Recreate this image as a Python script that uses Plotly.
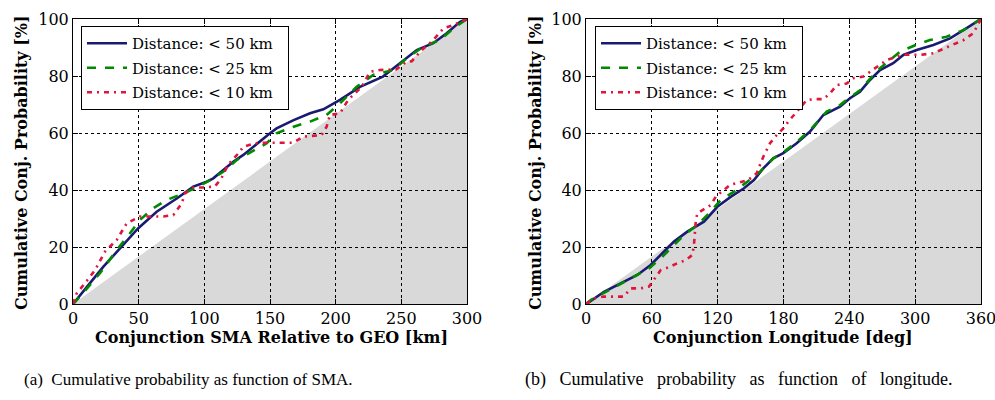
import plotly.graph_objects as go

# ---------------- data ----------------
# (a) SMA relative to GEO [km]
sma_50_x = [0, 1.5, 12, 23, 35.8, 49.7, 63.7, 79, 91.6, 101.8, 106.8, 114.4, 122, 129.7, 137.3, 150,
            155, 168, 180.5, 190.6, 203.3, 218.5, 236, 249, 261.7, 274.3, 284.5, 294.7, 300]
sma_50_y = [0, 0.8, 6.8, 13, 19.5, 26.6, 32.4, 37, 41.2, 42.9, 44.1, 47, 49.9, 52.3, 55.2, 59.9,
            61.6, 64.5, 66.9, 68.3, 71.6, 76.2, 79.8, 84.5, 89.1, 91.5, 95, 99, 100]

sma_25_x = [0, 5.3, 20.5, 33.3, 43.4, 51, 61, 71.3, 84, 94.2, 104.3, 114.4, 124.6, 136, 147.5,
            155, 168, 180.5, 193, 203.3, 216, 228.6, 243.9, 254, 266.7, 279.4, 289.6, 300]
sma_25_y = [0, 2.6, 10.8, 18.9, 24.8, 29.5, 33.6, 36.5, 38.8, 40.9, 43.5, 46.4, 50.5, 53.4, 56.4,
            59.9, 62.2, 64, 66.3, 70.4, 76.2, 80.4, 82.1, 86.2, 90.3, 92.6, 96.7, 100]

sma_10_x = [0, 2.8, 9.1, 16.8, 24.4, 33.3, 40.9, 51, 68.8, 76.4, 82.8, 85.3, 91.6, 99.2, 108, 113,
            118, 126, 129.7, 138.6, 147.5, 167.7, 175.4, 183, 189.3, 193.1, 195.6, 203.3, 209.5,
            219.8, 226.2, 233.8, 241.5, 246, 254, 258, 264.2, 274.3, 282, 289.6, 300]
sma_10_y = [0, 3.7, 7.3, 11.9, 18.4, 22.5, 28.3, 30.7, 30.7, 31.2, 35.3, 38.8, 40.9, 40.9, 41.2, 44.1,
            48.8, 52.9, 55.2, 56.4, 56.6, 56.6, 58.7, 59.1, 59.3, 62.2, 66.3, 66.9, 71.6,
            76.2, 81.5, 82.1, 82.1, 82.3, 85, 85.2, 88.5, 92.6, 96.7, 97.9, 100]

# (b) longitude [deg]
lon_50_x = [0, 1.2, 16.4, 31.6, 46.8, 58.9, 69.5, 80.2, 92.3, 107.5, 119.7, 131.9, 144, 153.1,
            161.6, 170.7, 179.8, 192, 204.2, 216.3, 231.5, 240.6, 249.7, 258.8, 268, 280, 289.2,
            301.4, 316.6, 331.8, 344, 356, 360]
lon_50_y = [0, 0.2, 4.3, 7.3, 10.2, 13.7, 17.8, 21.9, 25.4, 28.9, 34.1, 37.6, 40.6, 43.5,
            47.6, 51.1, 52.9, 56.4, 60.5, 66.3, 69.2, 72.2, 74.5, 78.6, 82.1, 84.5, 87.4,
            89.1, 90.9, 93.2, 96.1, 99, 100]

lon_25_x = [0, 4.3, 21.3, 34.6, 46.8, 57.4, 68.1, 78.7, 89.3, 101.5, 112.1, 122.8, 134.9, 147,
            158.6, 170.7, 179.8, 192, 204.2, 219.4, 231.5, 240.6, 249.7, 258.8, 268, 286.2,
            300, 313.5, 328.7, 344, 356, 360]
lon_25_y = [0, 1.4, 4.9, 7.8, 10.2, 12.5, 16, 20.1, 24.2, 27.7, 31.8, 36.5, 39.4, 42.9,
            46.4, 51.1, 53.2, 56.8, 61, 67.5, 69.8, 72.5, 75, 79, 82.7, 88.5,
            90.8, 92.6, 93.8, 96.1, 99, 100]

lon_10_x = [0, 7.3, 16.4, 27.1, 34.6, 40.7, 49.9, 57.4, 63.5, 68.1, 75.6, 83.2, 90.9, 96.9, 98.4,
            99.9, 101.4, 113.6, 118.2, 131.2, 147.9, 155.6, 161.6, 167.7, 173.8, 179.8, 184.4,
            195, 201.2, 208.7, 216.3, 222.4, 228.5, 237.6, 243.6, 252.7, 258.8, 266.4, 274,
            289, 304.4, 316.6, 334.8, 344, 353, 360]
lon_10_y = [0, 2, 2.6, 2.6, 2.6, 5.5, 5.5, 6.1, 9.6, 11.9, 12.9, 14.3, 15.4, 17.2, 20.7,
            28.3, 31.8, 34.7, 37.6, 41.8, 43.5, 45.9, 51.7, 56.4, 59.3, 61.6, 64,
            68.7, 71.6, 71.9, 71.9, 73.9, 76.8, 77.4, 79.2, 79.8, 81.5, 83.3, 85.6,
            87.5, 87.4, 88, 90.9, 92.6, 95, 100]

# uniform reference distributions (shaded)
ref_sma_x = [0, 300]
ref_lon_x = [0, 360]
ref_y = [0, 100]

sma_ticks = [0, 50, 100, 150, 200, 250, 300]
lon_ticks = [0, 60, 120, 180, 240, 300, 360]
y_ticks = [0, 20, 40, 60, 80, 100]

names = ["Distance: &lt; 50 km", "Distance: &lt; 25 km", "Distance: &lt; 10 km"]
colors = ["#1a1a72", "#008a00", "#e0143c"]
dashes = ["solid", "dash", "5px,5px,2px,5px"]

W, H = 995, 400
L1, R1 = 73, 467
L2, R2 = 586, 981
TOP, BOT = 19, 304


def px(v):
    return v / W


def py(v):
    return 1 - v / H


fig = go.Figure()

series = [
    (sma_50_x, sma_50_y, sma_25_x, sma_25_y, sma_10_x, sma_10_y, "x", "y", "legend"),
    (lon_50_x, lon_50_y, lon_25_x, lon_25_y, lon_10_x, lon_10_y, "x2", "y2", "legend2"),
]
for s in series:
    xs = [s[0], s[2], s[4]]
    ys = [s[1], s[3], s[5]]
    for i in range(3):
        fig.add_trace(go.Scatter(
            x=xs[i], y=ys[i], mode="lines", name=names[i] + "&nbsp;&nbsp;",
            line=dict(color=colors[i], width=2.6, dash=dashes[i]),
            xaxis=s[6], yaxis=s[7], legend=s[8], legendgroup=s[8] + str(i),
        ))

font = "DejaVu Serif"
axis_common = dict(
    showline=True, linecolor="black", linewidth=1, mirror="allticks",
    ticks="inside", ticklen=5, tickcolor="black", tickwidth=1,
    showgrid=True, gridcolor="black", gridwidth=1, griddash="dot",
    zeroline=False, automargin=False, ticklabeloverflow="allow",
    tickfont=dict(family=font, size=16, color="black"),
)

leg_common = dict(xanchor="left", yanchor="top", bgcolor="white",
                  bordercolor="black", borderwidth=1, tracegroupgap=2, itemwidth=40,
                  font=dict(family=font, size=15, color="black"))

fig.update_layout(
    width=W, height=H, margin=dict(l=0, r=0, t=0, b=0, pad=0), autosize=False,
    paper_bgcolor="white", plot_bgcolor="white", showlegend=True,
    xaxis=dict(domain=[px(L1), px(R1)], range=[0, 300], tickvals=sma_ticks, anchor="y", **axis_common),
    yaxis=dict(domain=[py(BOT), py(TOP)], range=[0, 100], tickvals=y_ticks, anchor="x", **axis_common),
    xaxis2=dict(domain=[px(L2), px(R2)], range=[0, 360], tickvals=lon_ticks, anchor="y2", **axis_common),
    yaxis2=dict(domain=[py(BOT), py(TOP)], range=[0, 100], tickvals=y_ticks, anchor="x2", **axis_common),
    legend=dict(x=px(81), y=py(26), **leg_common),
    legend2=dict(x=px(595), y=py(26), **leg_common),
)

# shaded uniform reference area, below grid
for rx, xr, yr in [(ref_sma_x, "x", "y"), (ref_lon_x, "x2", "y2")]:
    path = f"M {rx[0]},{ref_y[0]} L {rx[1]},{ref_y[1]} L {rx[1]},{ref_y[0]} Z"
    fig.add_shape(type="path", path=path, xref=xr, yref=yr, fillcolor="#d9d9d9",
                  line=dict(width=0), layer="below")

# legend shadows
for lx0, lx1 in [(84, 289), (598, 802)]:
    fig.add_shape(type="rect", xref="paper", yref="paper", x0=px(lx0), x1=px(lx1),
                  y0=py(106), y1=py(30), fillcolor="#a8a8a8", line=dict(width=0), layer="above")

# axis titles
tfont = dict(family=font, size=16, color="black")
ann = dict(xref="paper", yref="paper", showarrow=False, xanchor="center", yanchor="middle")
fig.add_annotation(text="<b>Conjunction SMA Relative to GEO [km]</b>", x=px(271), y=py(337),
                   font=tfont, **ann)
fig.add_annotation(text="<b>Conjunction Longitude [deg]</b>", x=px(783), y=py(337),
                   font=tfont, **ann)
fig.add_annotation(text="<b>Cumulative Conj. Probability [%]</b>", x=px(21), y=py(163),
                   textangle=-90, font=tfont, **ann)
fig.add_annotation(text="<b>Cumulative Conj. Probability [%]</b>", x=px(535), y=py(163),
                   textangle=-90, font=tfont, **ann)

# captions
sp = "&nbsp;&nbsp;"
fig.add_annotation(text="(a)" + sp + "Cumulative probability as function of SMA.", x=px(22), y=py(379),
                   xref="paper", yref="paper", xanchor="left", yanchor="middle", showarrow=False,
                   font=dict(family="Liberation Serif", size=17, color="black"))
cap_b = ["(b)", "Cumulative", "probability", "as", "function", "of", "longitude."]
fig.add_annotation(text=("&nbsp;" * 3).join(cap_b), x=px(523), y=py(379),
                   xref="paper", yref="paper", xanchor="left", yanchor="middle", showarrow=False,
                   font=dict(family="Liberation Serif", size=18, color="black"))

fig.write_html("out.html")
